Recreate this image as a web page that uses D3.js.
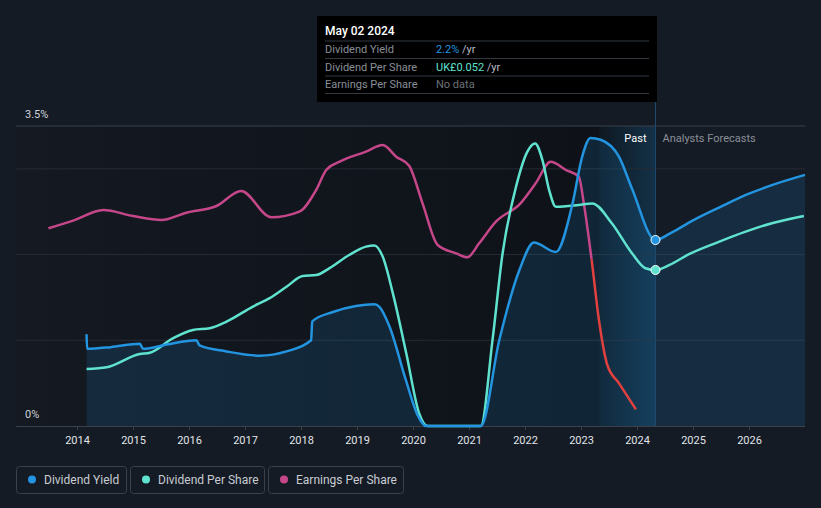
<!DOCTYPE html>
<html>
<head>
<meta charset="utf-8">
<script src="https://cdn.jsdelivr.net/npm/d3@7"></script>
<style>
  html, body { margin: 0; padding: 0; background: #151b25; }
  svg { display: block; font-family: Roboto, "Noto Sans", sans-serif; }
</style>
</head>
<body>
<svg id="chart" width="821" height="508"></svg>
<script>
// ---------- DATA ----------
const yearTicks = [2014, 2015, 2016, 2017, 2018, 2019, 2020, 2021, 2022, 2023, 2024, 2025, 2026];
const yieldTickLabels = ["0%", "3.5%"];

// Dividend Yield (%) [year, value]
const dividendYield = [
  [2014.17, 1.07], [2014.18, 0.90], [2014.6, 0.92], [2015.12, 0.96], [2015.18, 0.90],
  [2015.6, 0.95], [2016.13, 1.00], [2016.19, 0.94], [2016.67, 0.87], [2017.26, 0.82],
  [2017.74, 0.87], [2018.18, 1.00], [2018.2, 1.22], [2018.57, 1.33], [2018.98, 1.40],
  [2019.31, 1.42], [2019.4, 1.39], [2019.58, 1.16], [2019.87, 0.54], [2020.08, 0.13],
  [2020.23, 0], [2021.21, 0], [2021.54, 1.00], [2021.9, 1.82], [2022.16, 2.14],
  [2022.55, 2.03], [2022.85, 2.60], [2023.02, 3.14], [2023.17, 3.36], [2023.35, 3.34],
  [2023.68, 3.14], [2023.91, 2.77], [2024.33, 2.17]
];
const dividendYieldForecast = [
  [2024.33, 2.17], [2024.6, 2.25], [2025.0, 2.40], [2025.5, 2.56], [2026.0, 2.71],
  [2026.5, 2.83], [2027.0, 2.93]
];

// Dividend Per Share (UK£) [year, value]
const dividendPerShare = [
  [2014.17, 0.0190], [2014.53, 0.0196], [2015.12, 0.0240], [2015.3, 0.0244], [2015.71, 0.0292],
  [2016.07, 0.0320], [2016.37, 0.0326], [2016.67, 0.0348], [2017.14, 0.0398], [2017.44, 0.0426],
  [2017.74, 0.0464], [2018.03, 0.0500], [2018.27, 0.0503], [2018.51, 0.0526], [2018.86, 0.0570],
  [2019.16, 0.0598], [2019.31, 0.0602], [2019.46, 0.0564], [2019.64, 0.0442], [2019.88, 0.0242],
  [2020.11, 0.0042], [2020.26, 0], [2021.21, 0], [2021.42, 0.0287], [2021.6, 0.0576],
  [2021.84, 0.0798], [2022.04, 0.0914], [2022.18, 0.0942], [2022.31, 0.0887], [2022.43, 0.0787],
  [2022.55, 0.0731], [2022.96, 0.0737], [2023.2, 0.0742], [2023.55, 0.0676], [2023.91, 0.0576],
  [2024.15, 0.0526], [2024.33, 0.0520]
];
const dividendPerShareForecast = [
  [2024.33, 0.0520], [2024.58, 0.0537], [2024.93, 0.0573], [2025.46, 0.0614], [2025.94, 0.0648],
  [2026.41, 0.0676], [2026.98, 0.0700]
];

// Earnings Per Share (UK£) [year, value]
const earningsPerShare = [
  [2013.49, 0.093], [2013.93, 0.116], [2014.47, 0.148], [2015.0, 0.130], [2015.51, 0.118],
  [2015.95, 0.140], [2016.49, 0.160], [2016.93, 0.205], [2017.47, 0.126], [2017.97, 0.143],
  [2018.27, 0.208], [2018.45, 0.268], [2018.69, 0.293], [2019.16, 0.323], [2019.46, 0.343],
  [2019.7, 0.308], [2019.93, 0.281], [2020.17, 0.168], [2020.44, 0.043], [2020.77, 0.018],
  [2020.97, 0.006], [2021.18, 0.048], [2021.48, 0.113], [2021.92, 0.168], [2022.19, 0.228],
  [2022.46, 0.293], [2022.73, 0.268], [2022.96, 0.248], [2023.05, 0.168], [2023.19, -0.002],
  [2023.32, -0.182], [2023.47, -0.317], [2023.68, -0.372], [2023.98, -0.450]
];

const tooltipDate = 2024.33;
const pastBandStart = 2023.33;
const tooltipTitle = "May 02 2024";
const tooltipRows = [
  { label: "Dividend Yield", value: "2.2%", unit: " /yr", color: "#2394df" },
  { label: "Dividend Per Share", value: "UK£0.052", unit: " /yr", color: "#5fe3cf" },
  { label: "Earnings Per Share", value: "No data", unit: "", color: "#6b7079" }
];
const legendItems = [
  { label: "Dividend Yield", color: "#2394df" },
  { label: "Dividend Per Share", color: "#5fe3cf" },
  { label: "Earnings Per Share", color: "#c5478a" }
];

(function () {
// ---------- LAYOUT ----------
const svg = d3.select("#chart");
const pL = 16, pR = 805, pT = 126, pB = 426;

const x = d3.scaleLinear().domain([2012.91, 2027.0]).range([pL, pR]);
const yY = d3.scaleLinear().domain([0, 3.5]).range([pB, pT]);
const yD = d3.scaleLinear().domain([0, 0.1]).range([pB, pT]);
const yE = d3.scaleLinear().domain([-0.5, 0.4]).range([pB, pT]);

const defs = svg.append("defs");
const g1 = defs.append("linearGradient").attr("id", "pastBg").attr("x1", 0).attr("x2", 1).attr("y1", 0).attr("y2", 0);
g1.append("stop").attr("offset", "0%").attr("stop-color", "#141922");
g1.append("stop").attr("offset", "100%").attr("stop-color", "#0e1218");
const g2 = defs.append("linearGradient").attr("id", "bandBg").attr("x1", 0).attr("x2", 1).attr("y1", 0).attr("y2", 0);
g2.append("stop").attr("offset", "0%").attr("stop-color", "#2394df").attr("stop-opacity", 0.05);
g2.append("stop").attr("offset", "100%").attr("stop-color", "#2394df").attr("stop-opacity", 0.24);

// backgrounds
svg.append("rect").attr("x", pL).attr("y", pT).attr("width", x(pastBandStart) - pL)
  .attr("height", pB - pT).attr("fill", "url(#pastBg)");
svg.append("rect").attr("x", x(pastBandStart)).attr("y", pT).attr("width", x(tooltipDate) - x(pastBandStart))
  .attr("height", pB - pT).attr("fill", "#0e1218");
svg.append("rect").attr("x", x(pastBandStart)).attr("y", pT).attr("width", x(tooltipDate) - x(pastBandStart))
  .attr("height", pB - pT).attr("fill", "url(#bandBg)");

// gridlines
[1, 2, 3].forEach(v => {
  svg.append("line").attr("x1", pL).attr("x2", pR).attr("y1", yY(v)).attr("y2", yY(v))
    .attr("stroke", "#262c36").attr("stroke-width", 1);
});
svg.append("line").attr("x1", pL).attr("x2", pR).attr("y1", yY(3.5)).attr("y2", yY(3.5))
  .attr("stroke", "#3b404a").attr("stroke-width", 1);

// yield area
const allYield = dividendYield.concat(dividendYieldForecast.slice(1));
const area = d3.area().x(d => x(d[0])).y0(pB).y1(d => yY(d[1])).curve(d3.curveMonotoneX);
svg.append("path").datum(allYield).attr("d", area).attr("fill", "#2394df").attr("fill-opacity", 0.15);

// vertical line at tooltip date
svg.append("line").attr("x1", x(tooltipDate)).attr("x2", x(tooltipDate)).attr("y1", 101).attr("y2", pB)
  .attr("stroke", "#1f4a6e").attr("stroke-width", 1);

// axis
const axis = svg.append("g").attr("transform", `translate(0,${pB})`)
  .call(d3.axisBottom(x).tickValues(yearTicks).tickFormat(d3.format("d")).tickSize(4).tickPadding(6));
axis.select(".domain").attr("stroke", "#3b404a").attr("d", `M${pL},0.5H${pR}`);
axis.selectAll(".tick line").attr("stroke", "#3b404a");
axis.selectAll(".tick text").attr("fill", "#e0e3e8").attr("font-size", 11).attr("font-family", "Roboto, sans-serif");

// y labels
svg.append("text").attr("x", 25).attr("y", 118).text(yieldTickLabels[1]).attr("fill", "#d0d3d8").attr("font-size", 11);
svg.append("text").attr("x", 25).attr("y", 418).text(yieldTickLabels[0]).attr("fill", "#d0d3d8").attr("font-size", 11);

// lines
const lineY = d3.line().x(d => x(d[0])).y(d => yY(d[1])).curve(d3.curveMonotoneX);
const lineD = d3.line().x(d => x(d[0])).y(d => yD(d[1])).curve(d3.curveMonotoneX);
const lineE = d3.line().x(d => x(d[0])).y(d => yE(d[1])).curve(d3.curveMonotoneX);

// EPS with red below zero
defs.append("clipPath").attr("id", "clipPos").append("rect")
  .attr("x", 0).attr("y", 0).attr("width", 821).attr("height", yE(0));
defs.append("clipPath").attr("id", "clipNeg").append("rect")
  .attr("x", 0).attr("y", yE(0)).attr("width", 821).attr("height", 508 - yE(0));
svg.append("path").datum(earningsPerShare).attr("d", lineE).attr("fill", "none")
  .attr("stroke", "#c5478a").attr("stroke-width", 2.5).attr("clip-path", "url(#clipPos)");
svg.append("path").datum(earningsPerShare).attr("d", lineE).attr("fill", "none")
  .attr("stroke", "#e0413f").attr("stroke-width", 2.5).attr("clip-path", "url(#clipNeg)");

const allDps = dividendPerShare.concat(dividendPerShareForecast.slice(1));
svg.append("path").datum(allDps).attr("d", lineD).attr("fill", "none")
  .attr("stroke", "#5fe3cf").attr("stroke-width", 2.5);
svg.append("path").datum(allYield).attr("d", lineY).attr("fill", "none")
  .attr("stroke", "#2394df").attr("stroke-width", 2.5);

// markers
svg.append("circle").attr("cx", x(tooltipDate)).attr("cy", yY(dividendYield[dividendYield.length - 1][1]))
  .attr("r", 4.5).attr("fill", "#2394df").attr("stroke", "#ffffff").attr("stroke-width", 1);
svg.append("circle").attr("cx", x(tooltipDate)).attr("cy", yD(dividendPerShare[dividendPerShare.length - 1][1]))
  .attr("r", 4.5).attr("fill", "#5fe3cf").attr("stroke", "#ffffff").attr("stroke-width", 1);

// Past / Forecast labels
svg.append("text").attr("x", x(tooltipDate) - 9).attr("y", 142).attr("text-anchor", "end")
  .attr("fill", "#ffffff").attr("font-size", 11).text("Past");
svg.append("text").attr("x", x(tooltipDate) + 7).attr("y", 142)
  .attr("fill", "#8a8f98").attr("font-size", 11).text("Analysts Forecasts");

// tooltip
const tt = svg.append("g");
tt.append("rect").attr("x", 317).attr("y", 16).attr("width", 340).attr("height", 86).attr("fill", "#000000");
tt.append("text").attr("x", 325).attr("y", 35).attr("fill", "#ffffff").attr("font-size", 12)
  .attr("font-weight", 500).text(tooltipTitle);
[41, 58.5, 76, 93.5].forEach(yy => {
  tt.append("line").attr("x1", 325).attr("x2", 649).attr("y1", yy).attr("y2", yy)
    .attr("stroke", "#333840").attr("stroke-width", 1);
});
tooltipRows.forEach((r, i) => {
  const by = 53 + i * 17.5;
  tt.append("text").attr("x", 325).attr("y", by).attr("fill", "#8a8f98").attr("font-size", 11).text(r.label);
  const t = tt.append("text").attr("x", 436).attr("y", by).attr("font-size", 11);
  t.append("tspan").attr("fill", r.color).text(r.value);
  if (r.unit) t.append("tspan").attr("fill", "#b8bcc3").text(r.unit);
});

// legend
const lg = svg.append("g");
const boxes = [[16, 110], [130, 134], [268, 135]];
legendItems.forEach((it, i) => {
  const [bx, bw] = boxes[i];
  lg.append("rect").attr("x", bx + 0.5).attr("y", 466.5).attr("width", bw).attr("height", 27).attr("rx", 3)
    .attr("fill", "none").attr("stroke", "#3b404a");
  lg.append("circle").attr("cx", bx + 16).attr("cy", 479.5).attr("r", 4).attr("fill", it.color);
  lg.append("text").attr("x", bx + 28).attr("y", 484).attr("fill", "#c8ccd2").attr("font-size", 12).text(it.label);
});
})();
</script>
</body>
</html>
